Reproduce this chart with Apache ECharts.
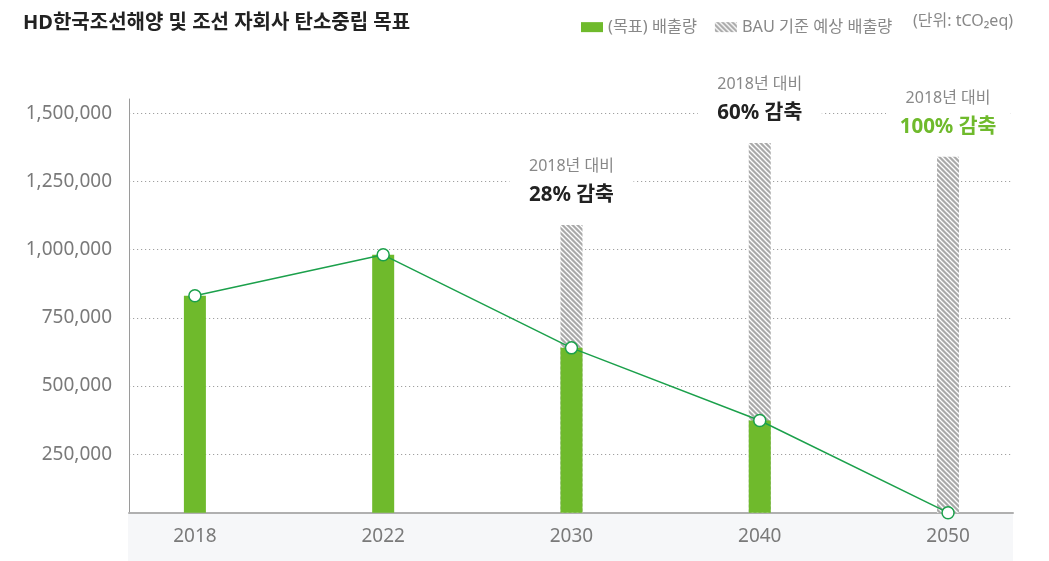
<!DOCTYPE html>
<html>
<head>
<meta charset="utf-8">
<script src="https://cdn.jsdelivr.net/npm/echarts@6/dist/echarts.min.js"></script>
<style>
html,body{margin:0;padding:0;background:#fff;}
#c{width:1049px;height:561px;}
</style>
</head>
<body>
<div id="c"></div>
<script>
// ---- data ----
const years = ['2018', '2022', '2030', '2040', '2050'];
const targetEmissions = [831000, 981000, 640000, 374000, 36000];
const bauEmissions = [null, null, 1090000, 1391000, 1340000];
const annoTop = ['', '', '2018년 대비', '2018년 대비', '2018년 대비'];
const annoBottom = ['', '', '28% 감축', '60% 감축', '100% 감축'];
const yTicks = [250000, 500000, 750000, 1000000, 1250000, 1500000];
const seriesNames = ['(목표) 배출량', 'BAU 기준 예상 배출량'];
const titleText = 'HD한국조선해양 및 조선 자회사 탄소중립 목표';
const unitText = '(단위: tCO₂eq)';

// ---- styling ----
const FONT = '"Noto Sans", "Noto Sans CJK KR", sans-serif';
const GREEN = '#6fba2c';
const LINE_GREEN = '#1ba04b';
const Y_MIN = 36000, Y_MAX = 1552000;
const X_MIN = -0.35, X_MAX = 4.345;

function hatch() {
  const s = 5;
  const cv = document.createElement('canvas');
  cv.width = s; cv.height = s;
  const ctx = cv.getContext('2d');
  ctx.fillStyle = '#a9a9a9';
  ctx.fillRect(0, 0, s, s);
  ctx.strokeStyle = '#ffffff';
  ctx.lineWidth = 1.3;
  for (const c of [-s, 0, s]) {
    ctx.beginPath();
    ctx.moveTo(-1, c - 1);
    ctx.lineTo(s + 1, c + s + 1);
    ctx.stroke();
  }
  return cv;
}
const pattern = { image: hatch(), repeat: 'repeat' };

const chart = echarts.init(document.getElementById('c'), null, { renderer: 'canvas' });
const idx = years.map((_, i) => i);

chart.setOption({
  animation: false,
  textStyle: { fontFamily: FONT },
  title: {
    text: titleText, left: 18, top: 8,
    textStyle: { fontFamily: FONT, fontSize: 20, fontWeight: 'bold', color: '#222' }
  },
  legend: {
    data: seriesNames, left: 576, top: 14,
    icon: 'rect', itemWidth: 22, itemHeight: 10, itemGap: 18,
    textStyle: { fontFamily: FONT, fontSize: 16.3, color: '#888' }
  },
  graphic: [
    { type: 'rect', z: -10, shape: { x: 128, y: 513, width: 885, height: 48 }, style: { fill: '#f6f7f9' } },
    { type: 'text', left: 913, top: 13, style: { text: unitText, fill: '#888', font: '16px ' + FONT } }
  ],
  grid: { left: 129, right: 36, top: 99, bottom: 48.3, containLabel: false },
  xAxis: {
    type: 'value', min: X_MIN, max: X_MAX,
    axisLine: { show: true, onZero: false, lineStyle: { color: '#b0b0b0', width: 2 } },
    axisTick: { show: false, customValues: idx },
    axisLabel: { customValues: idx, formatter: v => years[Math.round(v)], color: '#7a7a7a', fontSize: 19, margin: 14, fontFamily: FONT },
    splitLine: { show: false }
  },
  yAxis: {
    type: 'value', min: Y_MIN, max: Y_MAX,
    axisLine: { show: true, onZero: false, lineStyle: { color: '#9a9a9a', width: 1 } },
    axisTick: { show: false, customValues: yTicks },
    axisLabel: { customValues: yTicks, formatter: v => v.toLocaleString('en-US'), color: '#7a7a7a', fontSize: 19, margin: 17, fontFamily: FONT },
    splitLine: { show: true, lineStyle: { color: '#a0a0a0', width: 1, type: [1.2, 2.8] } }
  },
  series: [
    {
      name: seriesNames[1], type: 'bar', barWidth: 22, barGap: '-100%', z: 2,
      itemStyle: { color: pattern },
      data: bauEmissions.map((v, i) => [i, v]),
      label: {
        show: true, position: 'top', distance: 12,
        backgroundColor: '#fff', width: 124, align: 'center', padding: [3, 0, 3, 0],
        formatter: p => {
          const i = p.dataIndex;
          if (!annoTop[i]) return '';
          const style = i === years.length - 1 ? 'g' : 'b';
          return '{a|' + annoTop[i] + '}\n{' + style + '|' + annoBottom[i] + '}';
        },
        rich: {
          a: { fontFamily: FONT, fontSize: 16, color: '#888', lineHeight: 29, align: 'center' },
          b: { fontFamily: FONT, fontSize: 20.5, fontWeight: 'bold', color: '#222', lineHeight: 29, align: 'center' },
          g: { fontFamily: FONT, fontSize: 20.5, fontWeight: 'bold', color: GREEN, lineHeight: 29, align: 'center' }
        }
      }
    },
    {
      name: seriesNames[0], type: 'bar', barWidth: 22, barGap: '-100%', z: 3,
      itemStyle: { color: GREEN },
      data: targetEmissions.map((v, i) => [i, v])
    },
    {
      name: 'line', type: 'line', z: 5, clip: false,
      symbol: 'circle', symbolSize: 12,
      lineStyle: { color: LINE_GREEN, width: 1.5 },
      itemStyle: { color: '#fff', borderColor: LINE_GREEN, borderWidth: 1.5 },
      data: targetEmissions.map((v, i) => [i, v])
    }
  ]
});
</script>
</body>
</html>
